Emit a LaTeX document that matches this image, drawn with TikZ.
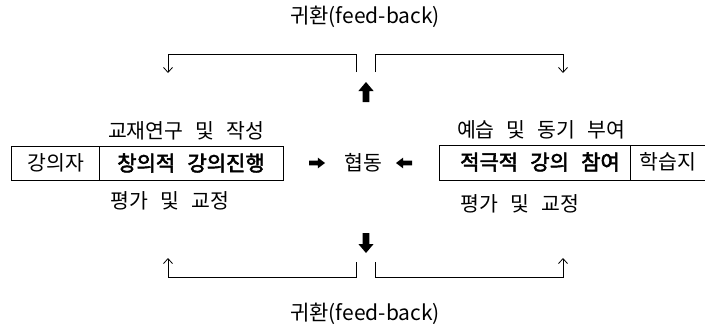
\documentclass[tikz,border=0pt]{standalone}
\usepackage{fontspec}
\newfontfamily\kr[WordSpace=2.6,AutoFakeBold=2.5]{Noto Sans CJK KR}
\usetikzlibrary{arrows.meta}
\tikzset{
  lbl/.style={inner sep=0pt,font=\kr\fontsize{20.5}{22}\selectfont},
  bld/.style={inner sep=0pt,font=\kr\fontsize{21}{23}\selectfont\bfseries},
  ttl/.style={inner sep=0pt,font=\kr\fontsize{21}{23}\selectfont},
  ln/.style={line width=0.8pt},
  fb/.style={line width=0.8pt,-{Straight Barb[length=5pt,width=9pt,line width=0.8pt]}},
  fatarr/.pic={\fill[black] (-10,-3.6) -- (1,-3.6) -- (1,-8) -- (10,0) -- (1,8) -- (1,3.6) -- (-10,3.6) -- cycle;}
}
\begin{document}
\begin{tikzpicture}[x=1pt,y=-1pt]
\useasboundingbox (0,0) rectangle (706,332);
% titles
\node[ttl] (ttop) at (365,17) {귀환(feed-back)};
\node[ttl] (tbot) at (365,314) {귀환(feed-back)};
% top brackets
\coordinate (a1) at (356,72); \coordinate (a2) at (356,54);
\coordinate (a3) at (168,54); \coordinate (a4) at (168,73);
\draw[fb] (a1) -- (a2) -- (a3) -- (a4);
\coordinate (b1) at (375,72); \coordinate (b2) at (375,54);
\coordinate (b3) at (563,54); \coordinate (b4) at (563,73);
\draw[fb] (b1) -- (b2) -- (b3) -- (b4);
% bottom brackets
\coordinate (c1) at (356,262); \coordinate (c2) at (356,277);
\coordinate (c3) at (168,277); \coordinate (c4) at (168,258);
\draw[fb] (c1) -- (c2) -- (c3) -- (c4);
\coordinate (d1) at (375,262); \coordinate (d2) at (375,277);
\coordinate (d3) at (563,277); \coordinate (d4) at (563,258);
\draw[fb] (d1) -- (d2) -- (d3) -- (d4);
% fat vertical arrows
\coordinate (up) at (366,92);
\coordinate (down) at (366,243);
\pic[rotate=90,yscale=0.95] at (up) {fatarr};
\pic[rotate=-90,yscale=0.95] at (down) {fatarr};
% left group
\node[lbl] (lt) at (186,131) {교재연구 및 작성};
\node[lbl] (lb) at (170,201) {평가 및 교정};
\node[lbl] (lec) at (56,163) {강의자};
\node[bld] (cre) at (191,163) {창의적 강의진행};
\draw[ln] (11,146) rectangle (283,180);
\draw[ln] (99,146) -- (99,180);
% centre
\node[lbl] (coop) at (363,163) {협동};
\coordinate (ra) at (317,163);
\coordinate (la) at (404,163);
\pic[xscale=0.8,yscale=0.68] at (ra) {fatarr};
\pic[xscale=-0.8,yscale=0.68] at (la) {fatarr};
% right group
\node[lbl] (rt) at (541,130) {예습 및 동기 부여};
\node[lbl] (rb) at (520,204) {평가 및 교정};
\node[bld] (act) at (540,162) {적극적 강의 참여};
\node[lbl] (ws) at (668,162) {학습지};
\draw[ln] (439,145) rectangle (630,180);
\draw[ln] (630,145) -- (705,145);
\draw[ln] (630,180) -- (705,180);
\end{tikzpicture}
\end{document}
